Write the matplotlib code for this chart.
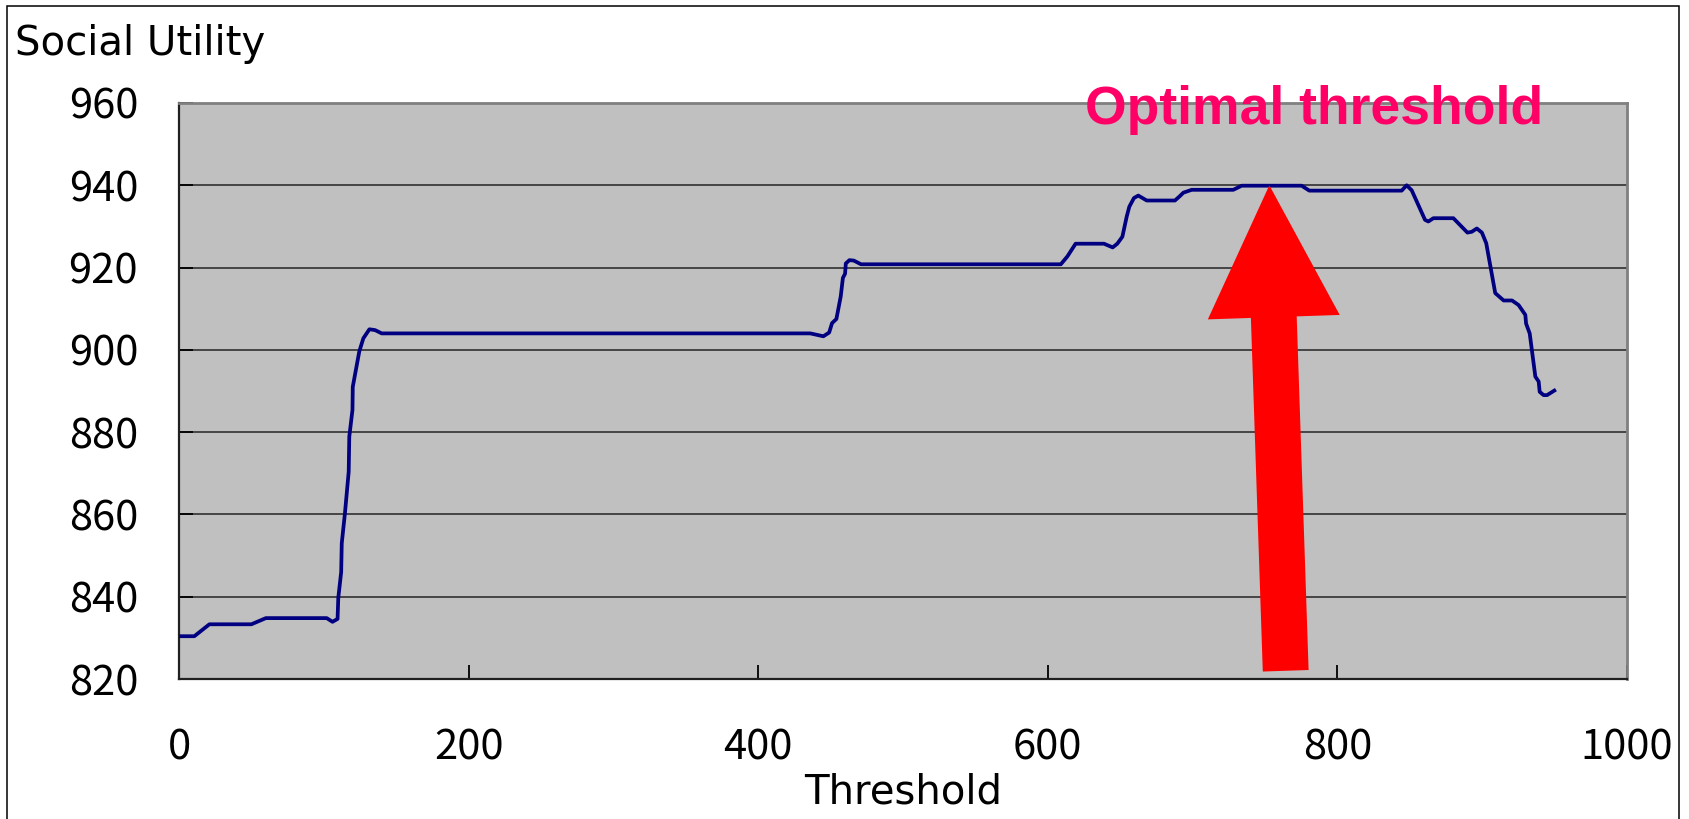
import matplotlib.pyplot as plt
import matplotlib.patches as mpatches

# social utility as a function of the acceptance threshold
threshold = [0, 10.6, 21, 50, 60, 102, 106, 109.5, 110, 112, 112.4, 114.6,
             117.2, 117.6, 119.8, 120, 124.5, 127.3, 131.5, 135.4, 140,
             436, 445, 449, 451, 454, 457, 458.5, 460, 460.5, 463, 466, 471,
             609, 613.5, 619.2, 638.8, 644.8, 648, 651.5, 654.5, 656.3,
             659.5, 662.5, 668.3, 687.8, 691.3, 693.6, 699.4, 728.1, 733.9,
             775.3, 780.6, 844.4, 847.8, 851.3, 860.5, 862.8, 866.3, 880.1,
             889.8, 892.8, 896.3, 899.8, 902.8, 909, 914.8, 920.6, 925.1,
             929.8, 930.3, 932.8, 936.7, 939, 939.7, 942.4, 944.8, 949.8]
utility = [830.4, 830.4, 833.3, 833.3, 834.8, 834.8, 833.9, 834.6, 839.7,
           846, 853, 860.3, 870.4, 878.9, 885.4, 891, 899.6, 902.8, 905,
           904.8, 904.0,
           904.0, 903.3, 904.2, 906.5, 907.5, 913, 917.5, 918.5, 921, 921.8,
           921.7, 920.8,
           920.8, 922.7, 925.8, 925.8, 924.9, 925.8, 927.5, 932.4, 934.8,
           936.9, 937.5, 936.3, 936.3, 937.4, 938.2, 938.9, 938.9, 939.9,
           939.9, 938.7, 938.7, 940.0, 938.8, 931.6, 931.2, 932.0, 932.0,
           928.5, 928.7, 929.5, 928.5, 925.9, 913.8, 912.0, 912.0, 910.9,
           908.5, 906.4, 904.0, 893.5, 892.3, 889.8, 889.0, 889.0, 890.1]

x_ticks = [0, 200, 400, 600, 800, 1000]
y_ticks = [820, 840, 860, 880, 900, 920, 940, 960]

# arrow pointing at the optimum, from its tail up to the peak
arrow_tail = (764.3, 822.0)
arrow_tip = (753.0, 940.0)

fig = plt.figure(figsize=(16.89, 8.19), dpi=100)
ax = fig.add_axes([0.10598, 0.17094, 0.85731, 0.70330])
ax.set_facecolor('#c0c0c0')

ax.plot(threshold, utility, color='#000080', lw=2.7, zorder=3)

ax.set_xlim(0, 1000)
ax.set_ylim(820, 960)
ax.set_xticks(x_ticks)
ax.set_yticks(y_ticks)
ax.yaxis.grid(True, color='#303030', lw=1.2)
ax.set_axisbelow(True)
ax.tick_params(axis='both', direction='in', length=10, width=1.3,
               labelsize=30, colors='black')
ax.tick_params(axis='x', pad=35)
ax.tick_params(axis='y', pad=29.5)
for lab in ax.get_xticklabels() + ax.get_yticklabels():
    lab.set_family('Noto Sans CJK JP')

for side in ['left', 'bottom']:
    ax.spines[side].set_color('#202020')
    ax.spines[side].set_linewidth(1.6)
for side in ['top', 'right']:
    ax.spines[side].set_color('#808080')
    ax.spines[side].set_linewidth(2)

arrow = mpatches.FancyArrowPatch(
    arrow_tail, arrow_tip,
    arrowstyle='simple,head_length=95,head_width=95,tail_width=33',
    mutation_scale=1, shrinkA=0, shrinkB=0,
    color='#ff0000', lw=0, zorder=4)
ax.add_patch(arrow)

ax.text(784, 954.9, 'Optimal threshold', color='#ff0066',
        fontsize=38.5, fontweight='bold', family='Liberation Sans',
        ha='center', va='baseline', clip_on=False, zorder=5)

ax.set_xlabel('Threshold', fontsize=29)
ax.xaxis.label.set_va('baseline')
ax.xaxis.set_label_coords(0.5, -0.217)

fig.text(15 / 1689, 1 - 55 / 819, 'Social Utility', fontsize=29,
         ha='left', va='baseline')

# thin frame round the whole chart
fig.patches.append(mpatches.Rectangle(
    (6.5 / 1689, -0.02), (1679 - 6.5) / 1689, 1 - 6 / 819 + 0.02,
    transform=fig.transFigure, fill=False, ec='black', lw=1.1))

fig.savefig('out.png', dpi=100)
